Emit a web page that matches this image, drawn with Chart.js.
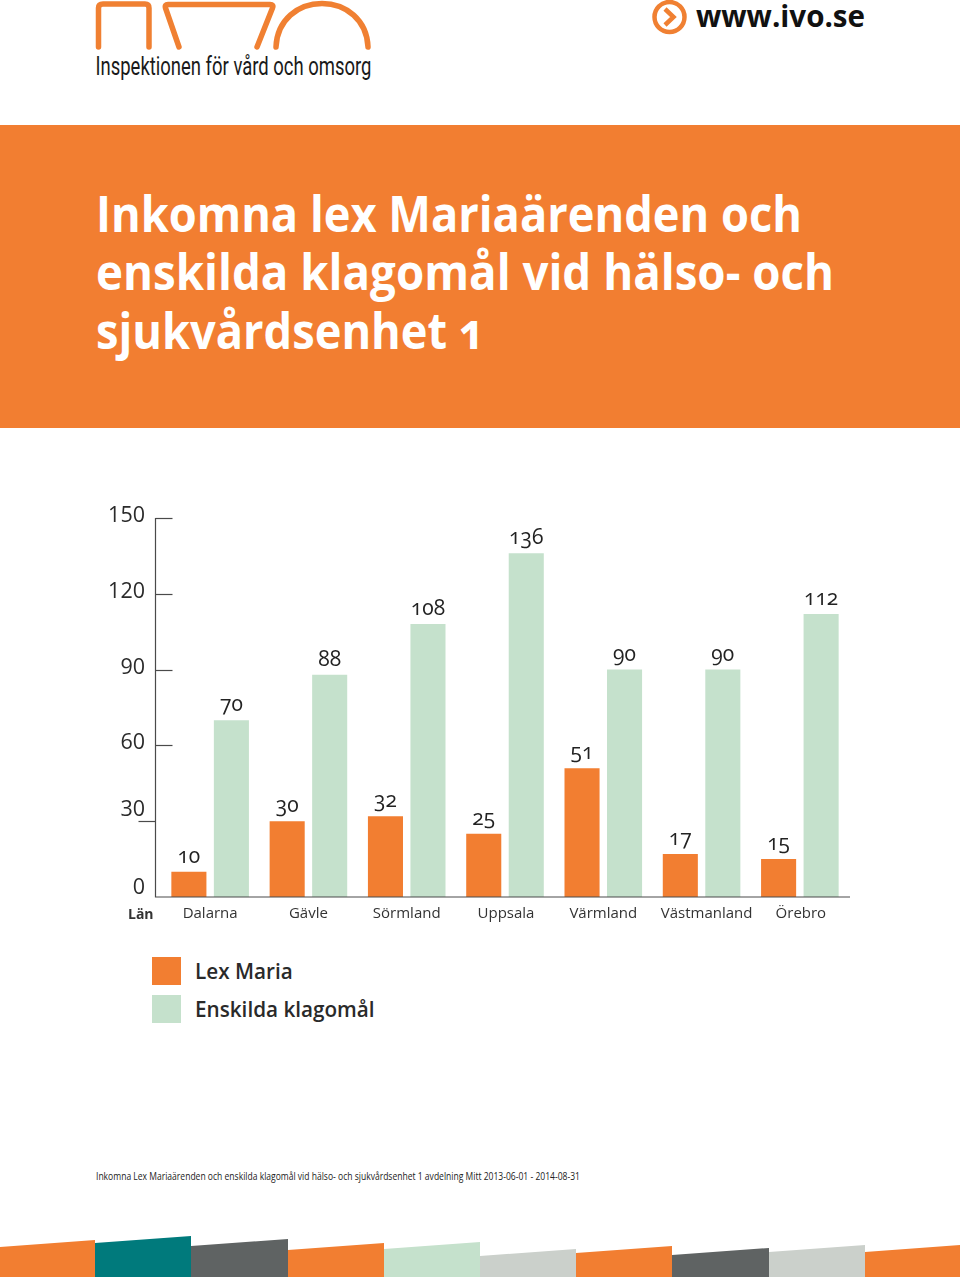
<!DOCTYPE html>
<html lang="sv"><head><meta charset="utf-8"><title>Inkomna lex Mariaärenden</title>
<style>
html,body{margin:0;padding:0;background:#fff;}
#page{position:relative;width:960px;height:1277px;overflow:hidden;}
#page svg{position:absolute;left:0;top:0;}
#wrap{position:absolute;left:0;top:480px;width:960px;height:460px;}
.dl{position:absolute;transform:translate(-50%,-50%);font:400 21px "Open Sans",sans-serif;font-feature-settings:"onum" 1;font-variant-numeric:oldstyle-nums;color:#222;white-space:nowrap;line-height:1;}
.lg{position:absolute;left:152px;width:29px;height:28px;}
.lt{position:absolute;left:195px;font:600 20.7px "Open Sans",sans-serif;color:#2a2a2a;white-space:nowrap;line-height:28px;}
</style></head><body>
<div id="page">
<svg width="960" height="1277" viewBox="0 0 960 1277">
  <g fill="none" stroke="#F08032" stroke-width="5.5" stroke-linecap="round" stroke-linejoin="round">
    <path d="M98.500 47V8Q98.500 4 103 4H145Q149 4 149 8V47"/>
    <path d="M179 47L165.500 8Q164.500 4.500 168 4.500H270Q274 4.500 272.500 8L257 47"/>
    <path d="M276 47C277 20 298 3.500 322 3.500C346 3.500 367 20 368 47"/>
    <circle cx="669.500" cy="17" r="15" stroke-width="4.500"/>
    <path d="M665 9L673.500 17L665 25" stroke-width="4.500" stroke-linecap="butt" stroke-linejoin="miter"/>
  </g>
  <text x="95.500" y="75" font-family="Roboto" font-size="26" font-weight="400" fill="#1a1a1a" textLength="276" lengthAdjust="spacingAndGlyphs">Inspektionen för vård och omsorg</text>
  <text x="696" y="27" font-family="Open Sans" font-size="31" font-weight="700" fill="#111" textLength="169" lengthAdjust="spacingAndGlyphs">www.ivo.se</text>
  <rect x="0" y="125" width="960" height="303" fill="#F27E31"/>
  <g font-family="Open Sans" font-size="50" font-weight="700" fill="#fff">
    <text x="96" y="232" textLength="706" lengthAdjust="spacingAndGlyphs">Inkomna lex Mariaärenden och</text>
    <text x="96" y="290" textLength="738" lengthAdjust="spacingAndGlyphs">enskilda klagomål vid hälso- och</text>
    <text x="96" y="349" textLength="389" lengthAdjust="spacingAndGlyphs" style="font-feature-settings:'onum' 1">sjukvårdsenhet 1</text>
  </g>
  <text x="96" y="1180" font-family="Open Sans" font-size="10" fill="#222" textLength="484" lengthAdjust="spacingAndGlyphs">Inkomna Lex Mariaärenden och enskilda klagomål vid hälso- och sjukvårdsenhet 1 avdelning Mitt 2013-06-01 - 2014-08-31</text>
  <polygon points="0,1247 95,1240 95,1277 0,1277" fill="#F27E31"/>
  <polygon points="95,1243 191,1236 191,1277 95,1277" fill="#007A7C"/>
  <polygon points="191,1246 288,1239 288,1277 191,1277" fill="#5F6363"/>
  <polygon points="288,1250 384,1243 384,1277 288,1277" fill="#F27E31"/>
  <polygon points="384,1249 480,1242 480,1277 384,1277" fill="#C5E1CC"/>
  <polygon points="480,1256 576,1249 576,1277 480,1277" fill="#CBD0CB"/>
  <polygon points="576,1253 672,1246 672,1277 576,1277" fill="#F27E31"/>
  <polygon points="672,1255 769,1248 769,1277 672,1277" fill="#5F6363"/>
  <polygon points="769,1252 865,1245 865,1277 769,1277" fill="#CBD0CB"/>
  <polygon points="865,1252 960,1245 960,1277 865,1277" fill="#F27E31"/>
</svg>
<div id="wrap"><canvas id="c" width="960" height="460"></canvas></div>
<div style="position:absolute;left:128px;top:905px;font:700 14px 'Open Sans',sans-serif;color:#333;line-height:18px;">Län</div>
<div id="legend"></div>
</div>
<script src="https://cdn.jsdelivr.net/npm/chart.js@4/dist/chart.umd.min.js"></script>
<script>
const categories = ["Dalarna","Gävle","Sörmland","Uppsala","Värmland","Västmanland","Örebro"];
const lexMaria = [10,30,32,25,51,17,15];
const enskildaKlagomal = [70,88,108,136,90,90,112];
const seriesNames = ["Lex Maria","Enskilda klagomål"];
const seriesColors = ["#F27E31","#C5E1CC"];
const yTicks = [0,30,60,90,120,150];

const AXIS = "#4a4a4a";
const tickLabelShift = {0:-10,30:-11.500};
const categoryLabelShift = {Uppsala:1,"Västmanland":5,"Örebro":1};

const axesPlugin = {
  id:"axesPlugin",
  afterDatasetsDraw(chart){
    const {ctx,scales:{x,y}} = chart;
    const axisX = x.left - 5.5;
    ctx.save();
    ctx.strokeStyle = AXIS; ctx.lineWidth = 1.2;
    ctx.beginPath();
    ctx.moveTo(axisX, y.top); ctx.lineTo(axisX, y.bottom);
    ctx.lineTo(x.right + 1, y.bottom);
    ctx.stroke();
    ctx.font = '400 21.5px "Open Sans",sans-serif';
    ctx.fillStyle = "#2b2b2b";
    ctx.textAlign = "right"; ctx.textBaseline = "middle";
    y.ticks.forEach(t=>{
      const py = Math.round(y.getPixelForValue(t.value)) + .5;
      if (t.value > 0){
        ctx.beginPath();
        if (t.value === 30){ ctx.moveTo(axisX - 17, py); ctx.lineTo(axisX, py); }
        else { ctx.moveTo(axisX, py); ctx.lineTo(axisX + 17, py); }
        ctx.stroke();
      }
      const shift = tickLabelShift[t.value] !== undefined ? tickLabelShift[t.value] : -3;
      ctx.fillText(String(t.value), axisX - 10.5, py + shift);
    });
    ctx.font = '400 15px "Open Sans",sans-serif';
    ctx.fillStyle = "#333";
    ctx.textAlign = "center";
    categories.forEach((c,i)=>{
      ctx.fillText(c, x.getPixelForValue(i) + (categoryLabelShift[c] || 0), y.bottom + 17);
    });
    ctx.restore();
  },
  afterRender(chart){
    const wrap = document.getElementById("wrap");
    wrap.querySelectorAll(".dl").forEach(e=>e.remove());
    chart.data.datasets.forEach((ds,i)=>{
      chart.getDatasetMeta(i).data.forEach((bar,j)=>{
        const d = document.createElement("div");
        d.className = "dl";
        d.textContent = ds.data[j];
        d.style.left = bar.x + "px";
        d.style.top = (bar.y - 17) + "px";
        wrap.appendChild(d);
      });
    });
  }
};

new Chart(document.getElementById("c"),{
  type:"bar",
  data:{labels:categories,datasets:[
    {label:seriesNames[0],data:lexMaria,backgroundColor:seriesColors[0],borderWidth:0},
    {label:seriesNames[1],data:enskildaKlagomal,backgroundColor:seriesColors[1],borderWidth:0}
  ]},
  options:{
    responsive:false,animation:false,
    categoryPercentage:.865,barPercentage:.825,
    layout:{padding:{left:161,right:111,top:38,bottom:17}},
    plugins:{legend:{display:false},tooltip:{enabled:false}},
    scales:{
      x:{grid:{display:false,drawTicks:false},border:{display:false},
         ticks:{display:false,autoSkip:false},
         afterFit(s){s.height=26;}},
      y:{display:true,min:0,max:150,grid:{display:false},border:{display:false},
         ticks:{display:false,stepSize:30},afterFit(s){s.width=0;}}
    }
  },
  plugins:[axesPlugin]
});

const lg = document.getElementById("legend");
seriesNames.forEach((n,i)=>{
  const top = 957 + i*37.5;
  lg.insertAdjacentHTML("beforeend",`<div class="lg" style="top:${top}px;background:${seriesColors[i]}"></div><div class="lt" style="top:${top}px">${n}</div>`);
});
</script>
</body></html>
